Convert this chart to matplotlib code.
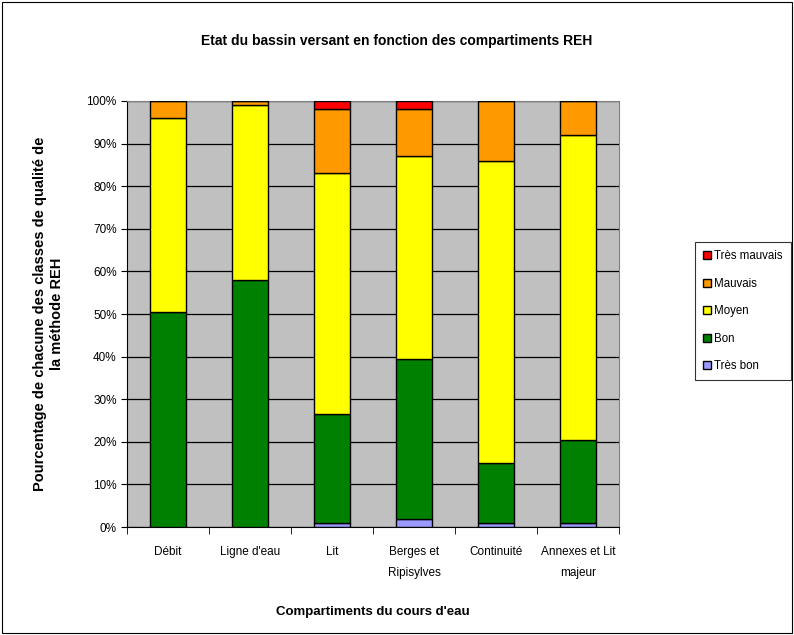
import numpy as np
import matplotlib.pyplot as plt
from matplotlib.patches import Rectangle

plt.rcParams["font.family"] = ["Liberation Sans", "DejaVu Sans"]

compartiments = ["Débit", "Ligne d'eau", "Lit", "Berges et\nRipisylves",
                 "Continuité", "Annexes et Lit\nmajeur"]
classes = ["Très bon", "Bon", "Moyen", "Mauvais", "Très mauvais"]
couleurs = ["#9999FF", "#008000", "#FFFF00", "#FF9900", "#FF0000"]

tres_bon = [0, 0, 1, 2, 1, 1]
bon = [50.5, 58, 25.5, 37.5, 14, 19.5]
moyen = [45.5, 41, 56.5, 47.5, 71, 71.5]
mauvais = [4, 1, 15, 11, 14, 8]
tres_mauvais = [0, 0, 2, 2, 0, 0]

series = [tres_bon, bon, moyen, mauvais, tres_mauvais]

fig = plt.figure(figsize=(7.94, 6.35), dpi=100)
fig.patches.append(Rectangle((0.003, 0.003), 0.994, 0.994, transform=fig.transFigure,
                             fill=False, edgecolor="black", linewidth=0.8))
ax = fig.add_axes([0.16, 0.17, 0.62, 0.671])
ax.set_facecolor("#C0C0C0")

x = np.arange(len(compartiments))
bas = np.zeros(len(compartiments))
handles = []
for vals, nom, c in zip(series, classes, couleurs):
    vals = np.array(vals, dtype=float)
    b = ax.bar(x, vals, 0.44, bottom=bas, color=c, edgecolor="black",
               linewidth=1.0, label=nom, zorder=3)
    handles.append(b)
    bas += vals

ax.set_xlim(-0.5, len(compartiments) - 0.5)
ax.set_ylim(0, 100)
ax.set_yticks(np.arange(0, 101, 10))
ax.set_yticklabels([f"{v}%" for v in range(0, 101, 10)], fontsize=8.5)
ax.yaxis.grid(True, color="black", linewidth=0.9, zorder=0)
ax.set_axisbelow(True)

ax.set_xticks(x)
ax.set_xticklabels(compartiments, fontsize=8.5, linespacing=1.9)
ax.tick_params(axis="x", length=0, pad=14)
ax.set_xticks(np.arange(-0.5, len(compartiments), 1), minor=True)
ax.tick_params(axis="x", which="minor", length=5, direction="out", color="black")
ax.tick_params(axis="y", length=4, direction="out")

for s in ["top", "right"]:
    ax.spines[s].set_color("#808080")
for s in ["left", "bottom"]:
    ax.spines[s].set_color("black")

ax.set_xlabel("Compartiments du cours d'eau", fontsize=9.5, fontweight="bold", labelpad=20)
ax.set_ylabel("Pourcentage de chacune des classes de qualité de\nla méthode REH",
              fontsize=10.5, fontweight="bold", labelpad=16, linespacing=1.3)
fig.text(0.5, 0.935, "Etat du bassin versant en fonction des compartiments REH",
         ha="center", va="center", fontsize=10, fontweight="bold")

leg = fig.legend(handles[::-1], classes[::-1], loc="center left",
                 bbox_to_anchor=(0.872, 0.51), fontsize=8.3, frameon=True,
                 fancybox=False, edgecolor="black", handlelength=0.7,
                 handleheight=0.7, labelspacing=1.35, borderpad=0.7,
                 handletextpad=0.3, borderaxespad=0.2)
leg.get_frame().set_linewidth(0.8)

fig.savefig("out.png", dpi=100)
